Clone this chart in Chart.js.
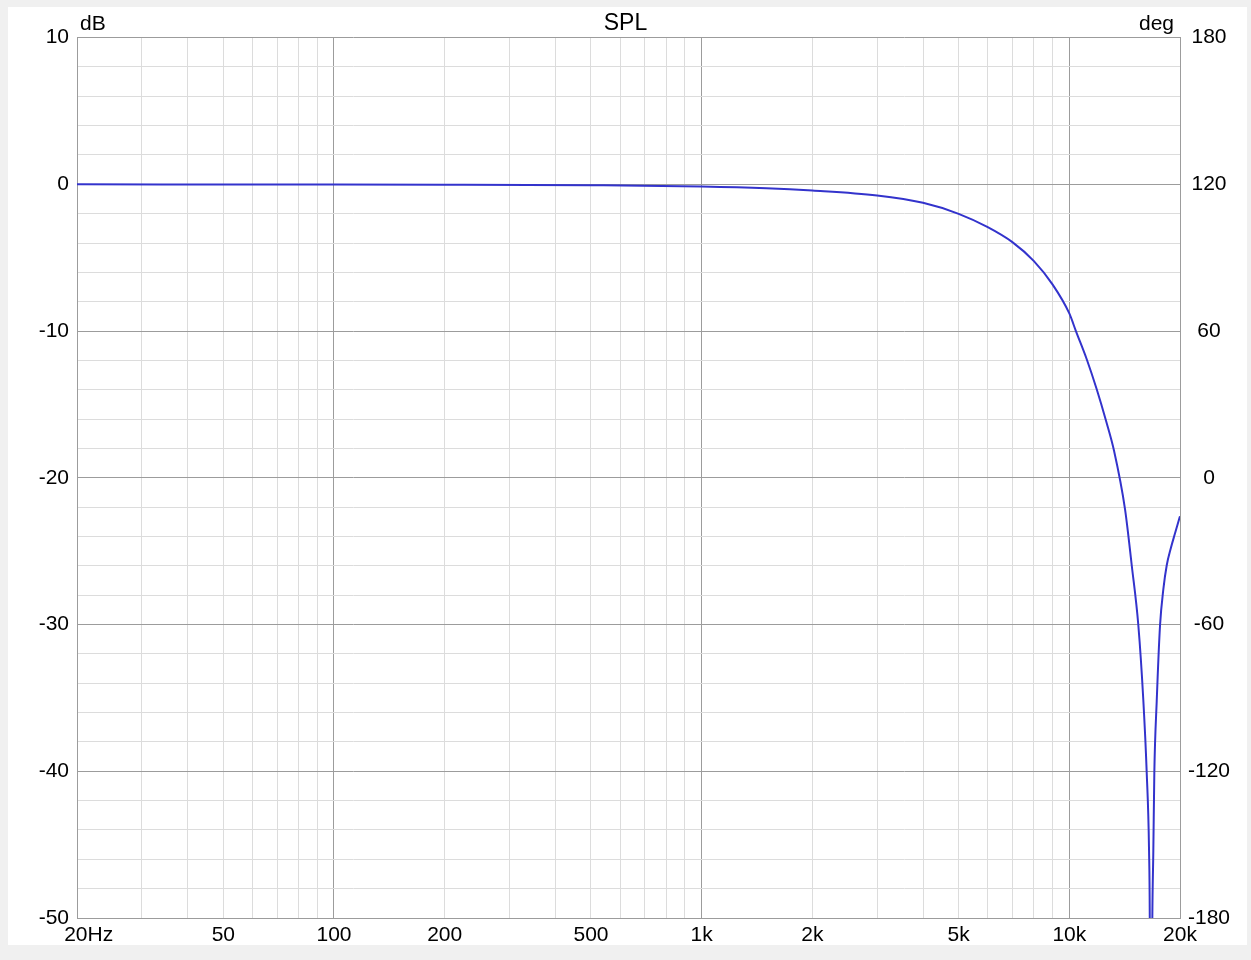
<!DOCTYPE html>
<html>
<head>
<meta charset="utf-8">
<script src="https://cdn.jsdelivr.net/npm/chart.js@4/dist/chart.umd.min.js"></script>
<style>
  html, body { margin: 0; padding: 0; background: #f0f0f0; overflow: hidden; }
  #wrap { width: 1251px; height: 960px; position: relative; }
</style>
</head>
<body>
<div id="wrap"><canvas id="spl"></canvas></div>
<script>
// frequency points (Hz) and SPL (dB)
const freqs = [20, 100, 200, 500, 1000, 1500, 2000, 3000, 4000, 5000, 6000, 7000, 8000, 9000,
    10000, 10428, 11152, 11872, 12562, 13232, 14176, 14782, 15406, 15896, 16238, 16474, 16550,
    16640, 16818, 16924, 17030, 17288, 17650, 18020, 18406, 18880, 19388, 19788, 20000];
const spl = [0, -0.01, -0.02, -0.06, -0.14, -0.26, -0.42, -0.76, -1.26, -2.01, -2.92, -3.94, -5.22, -6.82,
    -8.8, -10.02, -11.92, -13.97, -16.05, -18.16, -22.15, -25.96, -30.05, -35.16, -40.12, -45.37, -50,
    -70, -50, -45.4, -40.1, -35.2, -30.05, -27.59, -25.96, -24.8, -23.78, -23.01, -22.62];

// x grid lines and labels
const xGrid = [20, 30, 40, 50, 60, 70, 80, 90, 100, 200, 300, 400, 500, 600, 700, 800, 900,
    1000, 2000, 3000, 4000, 5000, 6000, 7000, 8000, 9000, 10000, 20000];
const xMajor = [20, 100, 1000, 10000, 20000];
const xLabels = { 20: "    20Hz", 50: "50", 100: "100", 200: "200", 500: "500",
    1000: "1k", 2000: "2k", 5000: "5k", 10000: "10k", 20000: "20k" };

const MAJOR = "#9c9c9c";
const MINOR = "#dcdcdc";
const FONT = "'Liberation Sans', Arial, sans-serif";

/* background panel + axis unit labels */
const panel = {
    id: "panel",
    beforeDraw(chart) {
        const c = chart.ctx;
        c.save();
        c.fillStyle = "#f0f0f0";
        c.fillRect(0, 0, chart.width, chart.height);
        c.fillStyle = "#ffffff";
        c.fillRect(8, 7, 1239, 938);
        c.restore();
    },
    afterDraw(chart) {
        const c = chart.ctx;
        const a = chart.chartArea;
        c.save();
        c.fillStyle = "#000";
        c.font = "21px " + FONT;
        c.textBaseline = "middle";
        c.textAlign = "left";
        c.fillText("dB", a.left + 3, 24);
        c.textAlign = "right";
        c.fillText("deg", a.right - 6, 24);
        c.restore();
    }
};

new Chart(document.getElementById("spl"), {
    type: "line",
    data: {
        datasets: [{
            data: freqs.map((f, i) => ({ x: f, y: spl[i] })),
            borderColor: "#3333cc",
            borderWidth: 2,
            pointRadius: 0,
            cubicInterpolationMode: "monotone",
            yAxisID: "y"
        }]
    },
    options: {
        responsive: true,
        maintainAspectRatio: false,
        animation: false,
        plugins: {
            legend: { display: false },
            tooltip: { enabled: false },
            title: {
                display: true,
                text: "SPL",
                color: "#000",
                font: { family: FONT, size: 23, weight: "normal" },
                padding: { top: 10, bottom: 0 }
            }
        },
        scales: {
            x: {
                type: "logarithmic",
                min: 20,
                max: 20000,
                afterBuildTicks: s => { s.ticks = xGrid.map(v => ({ value: v })); },
                afterFit: s => { s.height = 42; },
                ticks: {
                    autoSkip: false,
                    maxRotation: 0,
                    padding: 5,
                    color: "#000",
                    font: { family: FONT, size: 21 },
                    callback: v => xLabels[v] || ""
                },
                grid: {
                    drawTicks: false,
                    color: ctx => (ctx.tick && xMajor.includes(ctx.tick.value)) ? MAJOR : MINOR
                },
                border: { color: MAJOR }
            },
            y: {
                position: "left",
                min: -50,
                max: 10,
                afterFit: s => { s.width = 77; },
                ticks: {
                    stepSize: 2,
                    autoSkip: false,
                    padding: 8,
                    color: "#000",
                    font: { family: FONT, size: 21 },
                    callback: v => v % 10 === 0 ? String(v) : ""
                },
                grid: {
                    drawTicks: false,
                    color: ctx => (ctx.tick && ctx.tick.value % 10 === 0) ? MAJOR : MINOR
                },
                border: { color: MAJOR }
            },
            y2: {
                position: "right",
                min: -180,
                max: 180,
                afterFit: s => { s.width = 71; },
                ticks: {
                    stepSize: 60,
                    autoSkip: false,
                    padding: 8,
                    crossAlign: "center",
                    color: "#000",
                    font: { family: FONT, size: 21 }
                },
                grid: { drawOnChartArea: false, drawTicks: false },
                border: { color: MAJOR }
            }
        }
    },
    plugins: [panel]
});
</script>
</body>
</html>
